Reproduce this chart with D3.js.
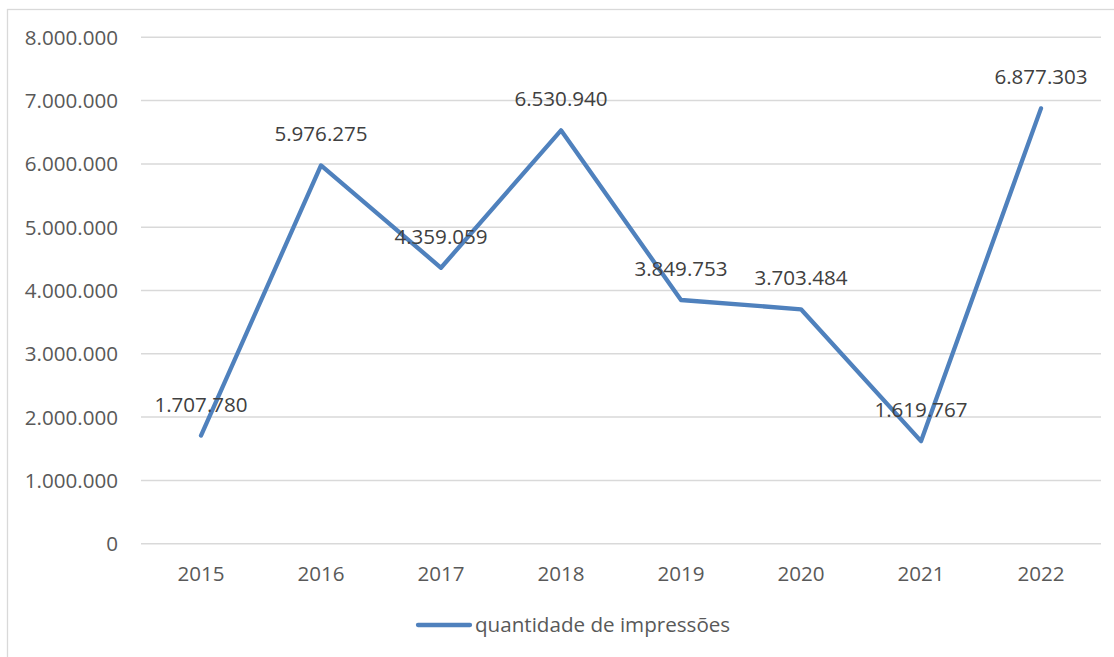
<!DOCTYPE html>
<html>
<head>
<meta charset="utf-8">
<title>quantidade de impressões</title>
<script src="https://d3js.org/d3.v7.min.js"></script>
<style>
	body { margin: 0; background: #fff; }
	svg text { font-family: "Open Sans", sans-serif; }
	.grid line { stroke: #d9d9d9; stroke-width: 1.5px; }
	.tick-label { fill: #595959; font-size: 20.6px; }
	.data-label { fill: #404040; font-size: 20.6px; text-anchor: middle; }
</style>
</head>
<body>
<svg id="chart"></svg>
<script>
var years = ['2015', '2016', '2017', '2018', '2019', '2020', '2021', '2022'];
var impressions = [1707780, 5976275, 4359059, 6530940, 3849753, 3703484, 1619767, 6877303];
var yTicks = [0, 1000000, 2000000, 3000000, 4000000, 5000000, 6000000, 7000000, 8000000];
var seriesName = 'quantidade de impressões';

(function () {
	var W = 1114, H = 657,
		plot = {left: 141, right: 1101, top: 37.3, bottom: 543.7},
		lineColor = '#4f81bd';

	var svg = d3.select('#chart').attr('width', W).attr('height', H);

	// chart area border (runs off the right / bottom of the picture)
	svg.append('rect')
		.attr('x', 7.5).attr('y', 9.5)
		.attr('width', W + 20).attr('height', H + 20)
		.attr('fill', 'none')
		.attr('stroke', '#d9d9d9')
		.attr('stroke-width', 1.3);

	var x = d3.scaleBand().domain(years).range([plot.left, plot.right]),
		y = d3.scaleLinear().domain([0, 8000000]).range([plot.bottom, plot.top]);

	var fmt = function (v) { return d3.format(',')(v).replace(/,/g, '.'); };

	// horizontal gridlines
	svg.append('g').attr('class', 'grid')
		.selectAll('line').data(yTicks).enter()
		.append('line')
			.attr('x1', plot.left).attr('x2', plot.right)
			.attr('y1', function (d) { return y(d); })
			.attr('y2', function (d) { return y(d); });

	// y axis labels
	svg.append('g')
		.selectAll('text').data(yTicks).enter()
		.append('text')
			.attr('class', 'tick-label')
			.attr('x', 118)
			.attr('y', function (d) { return y(d); })
			.attr('dy', '0.36em')
			.attr('text-anchor', 'end')
			.text(fmt);

	// x axis labels
	svg.append('g')
		.selectAll('text').data(years).enter()
		.append('text')
			.attr('class', 'tick-label')
			.attr('x', function (d) { return x(d) + x.bandwidth() / 2; })
			.attr('y', 574)
			.attr('dy', '0.36em')
			.attr('text-anchor', 'middle')
			.text(function (d) { return d; });

	var pts = years.map(function (d, i) { return {year: d, value: impressions[i]}; });

	var line = d3.line()
		.x(function (d) { return x(d.year) + x.bandwidth() / 2; })
		.y(function (d) { return y(d.value); });

	svg.append('path')
		.datum(pts)
		.attr('d', line)
		.attr('fill', 'none')
		.attr('stroke', lineColor)
		.attr('stroke-width', 4.3)
		.attr('stroke-linejoin', 'round')
		.attr('stroke-linecap', 'round');

	// data labels above each point
	svg.append('g')
		.selectAll('text').data(pts).enter()
		.append('text')
			.attr('class', 'data-label')
			.attr('x', function (d) { return x(d.year) + x.bandwidth() / 2; })
			.attr('y', function (d) { return y(d.value) - 31.5; })
			.attr('dy', '0.36em')
			.text(function (d) { return fmt(d.value); });

	// legend
	var lg = svg.append('g').attr('transform', 'translate(0,625)');
	lg.append('line')
		.attr('x1', 418).attr('x2', 470)
		.attr('y1', 0).attr('y2', 0)
		.attr('stroke', lineColor)
		.attr('stroke-width', 4.3)
		.attr('stroke-linecap', 'round');
	lg.append('text')
		.attr('class', 'tick-label')
		.attr('x', 475)
		.attr('dy', '0.36em')
		.text(seriesName);
}());
</script>
</body>
</html>
